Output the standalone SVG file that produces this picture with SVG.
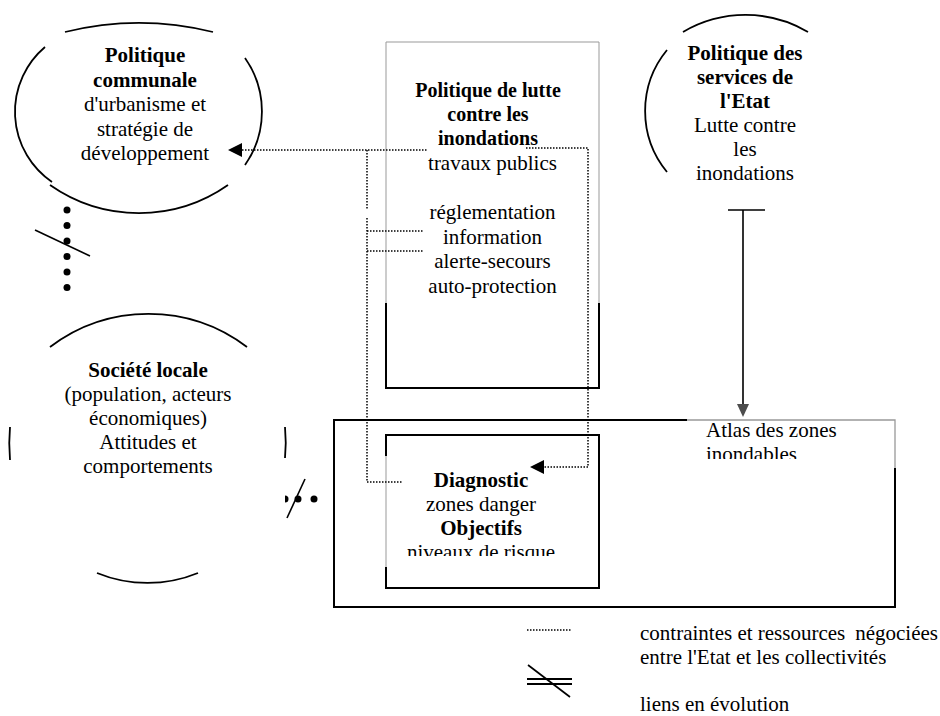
<svg xmlns="http://www.w3.org/2000/svg" width="940" height="716" viewBox="0 0 940 716">
<style>
text{font-family:"Liberation Serif","Times New Roman",serif;font-size:21px;fill:#000}
.c{text-anchor:middle}
.b{font-weight:bold}
.t{font-size:20px}
.arc{fill:none;stroke:#000;stroke-width:1.8}
.blk{fill:none;stroke:#000;stroke-width:2}
.gry{fill:none;stroke:#999;stroke-width:1}
.dot{fill:none;stroke:#000;stroke-width:1.5;stroke-dasharray:1.5 1.5}
.ln{fill:none;stroke:#000;stroke-width:1.6}
</style>
<defs>
<clipPath id="clipAtlas"><rect x="690" y="415" width="200" height="44"/></clipPath>
<clipPath id="clipDiag"><rect x="390" y="440" width="205" height="116"/></clipPath>
</defs>
<rect width="940" height="716" fill="#fff"/>

<g id="politique-communale">
<path class="arc" d="M65,32 A309,309 0 0 1 213,32"/>
<path class="arc" d="M45,47 A85,85 0 0 0 52,182"/>
<path class="arc" d="M50,185 A155,155 0 0 0 228,185"/>
<path class="arc" d="M245,58 A93,93 0 0 1 245,165"/>
<text class="c b" x="145" y="62">Politique</text>
<text class="c b" x="145" y="86.5">communale</text>
<text class="c" x="145" y="111">d'urbanisme et</text>
<text class="c" x="145" y="135.5">stratégie de</text>
<text class="c" x="145" y="160">développement</text>
</g>

<g id="politique-lutte">
<path class="gry" d="M386,303 V42 H599 V303"/>
<path class="blk" d="M386,303 V388 H599 V303"/>
<text class="c b t" x="488" y="97">Politique de lutte</text>
<text class="c b t" x="488" y="121">contre les</text>
<text class="c b t" x="488" y="145">inondations</text>
<text class="c" x="492.5" y="170">travaux publics</text>
<text class="c" x="492.5" y="219">réglementation</text>
<text class="c" x="492.5" y="243.5">information</text>
<text class="c" x="492.5" y="268">alerte-secours</text>
<text class="c" x="492.5" y="292.5">auto-protection</text>
</g>

<g id="politique-etat">
<path class="arc" d="M683,32 A123,123 0 0 1 808,32"/>
<path class="arc" d="M667,50 A96,96 0 0 0 667,172"/>
<text class="c b" x="745" y="60">Politique des</text>
<text class="c b" x="745" y="84">services de</text>
<text class="c b" x="745" y="108">l'Etat</text>
<text class="c" x="745" y="132">Lutte contre</text>
<text class="c" x="745" y="156">les</text>
<text class="c" x="745" y="180">inondations</text>
</g>

<g id="societe-locale">
<path class="arc" d="M50,347 A163,163 0 0 1 247,347"/>
<path class="arc" d="M10,427 Q8.5,443 10,460"/>
<path class="arc" d="M285,427 Q286.5,443 285,458"/>
<path class="arc" d="M97,573 A133,133 0 0 0 198,573"/>
<text class="c b" x="148" y="377">Société locale</text>
<text class="c" x="148" y="401">(population, acteurs</text>
<text class="c" x="148" y="425">économiques)</text>
<text class="c" x="148" y="449">Attitudes et</text>
<text class="c" x="148" y="473">comportements</text>
</g>

<g id="zonage">
<path class="blk" d="M687,420 H334 V607 H895 V468"/>
<path class="gry" d="M687,420 H895 V468" style="stroke-width:1.3"/>
<g clip-path="url(#clipAtlas)">
<text x="706" y="437">Atlas des zones</text>
<text x="706" y="461">inondables</text>
</g>
</g>

<g id="diagnostic">
<path class="blk" d="M386,456 V435 H599 V588 H386 V567"/>
<path class="gry" d="M386,456 V567"/>
<g clip-path="url(#clipDiag)">
<text class="c b" x="481" y="487">Diagnostic</text>
<text class="c" x="481" y="511">zones danger</text>
<text class="c b" x="481" y="535">Objectifs</text>
<text class="c" x="481" y="559">niveaux de risque</text>
</g>
</g>

<g id="connectors">
<path class="dot" d="M242,150 H428"/>
<polygon points="228,150 242,143 242,157" fill="#000"/>
<path class="dot" d="M367,150 V210 M367,218 V482 H403"/>
<path class="dot" d="M367,231 H423 M367,251 H423"/>
<path class="dot" d="M526,148 H588 V467 H544"/>
<polygon points="530,467 544,460 544,474" fill="#000"/>
<path class="ln" d="M728,210 H765 M743,210 V405"/>
<polygon points="737,404 749,404 743,417" fill="#4d4d4d"/>
<g id="lien-commune-societe">
<circle cx="67" cy="210" r="3.5"/>
<circle cx="67" cy="225.5" r="3.5"/>
<circle cx="67" cy="241" r="3.5"/>
<circle cx="67" cy="256.5" r="3.5"/>
<circle cx="67" cy="272" r="3.5"/>
<circle cx="67" cy="287.5" r="3.5"/>
<path class="ln" d="M35,230 L90,256"/>
</g>
<g id="lien-societe-zonage">
<path d="M285,495.5 A3.5,3.5 0 0 1 285,502.5 Z"/>
<circle cx="298" cy="499" r="3.5"/>
<circle cx="314" cy="499" r="3.5"/>
<path class="ln" d="M305,479 L287,518"/>
</g>
</g>

<g id="legende">
<path class="dot" d="M527,630 H572"/>
<text x="640" y="640">contraintes et ressources</text>
<text x="938" y="640" style="text-anchor:end">négociées</text>
<text x="640" y="664">entre l'Etat et les collectivités</text>
<path d="M527,679 H572 M527,684 H572" stroke="#000" stroke-width="2"/>
<path class="ln" d="M528,665 L570,697"/>
<text x="640" y="711">liens en évolution</text>
</g>
</svg>
